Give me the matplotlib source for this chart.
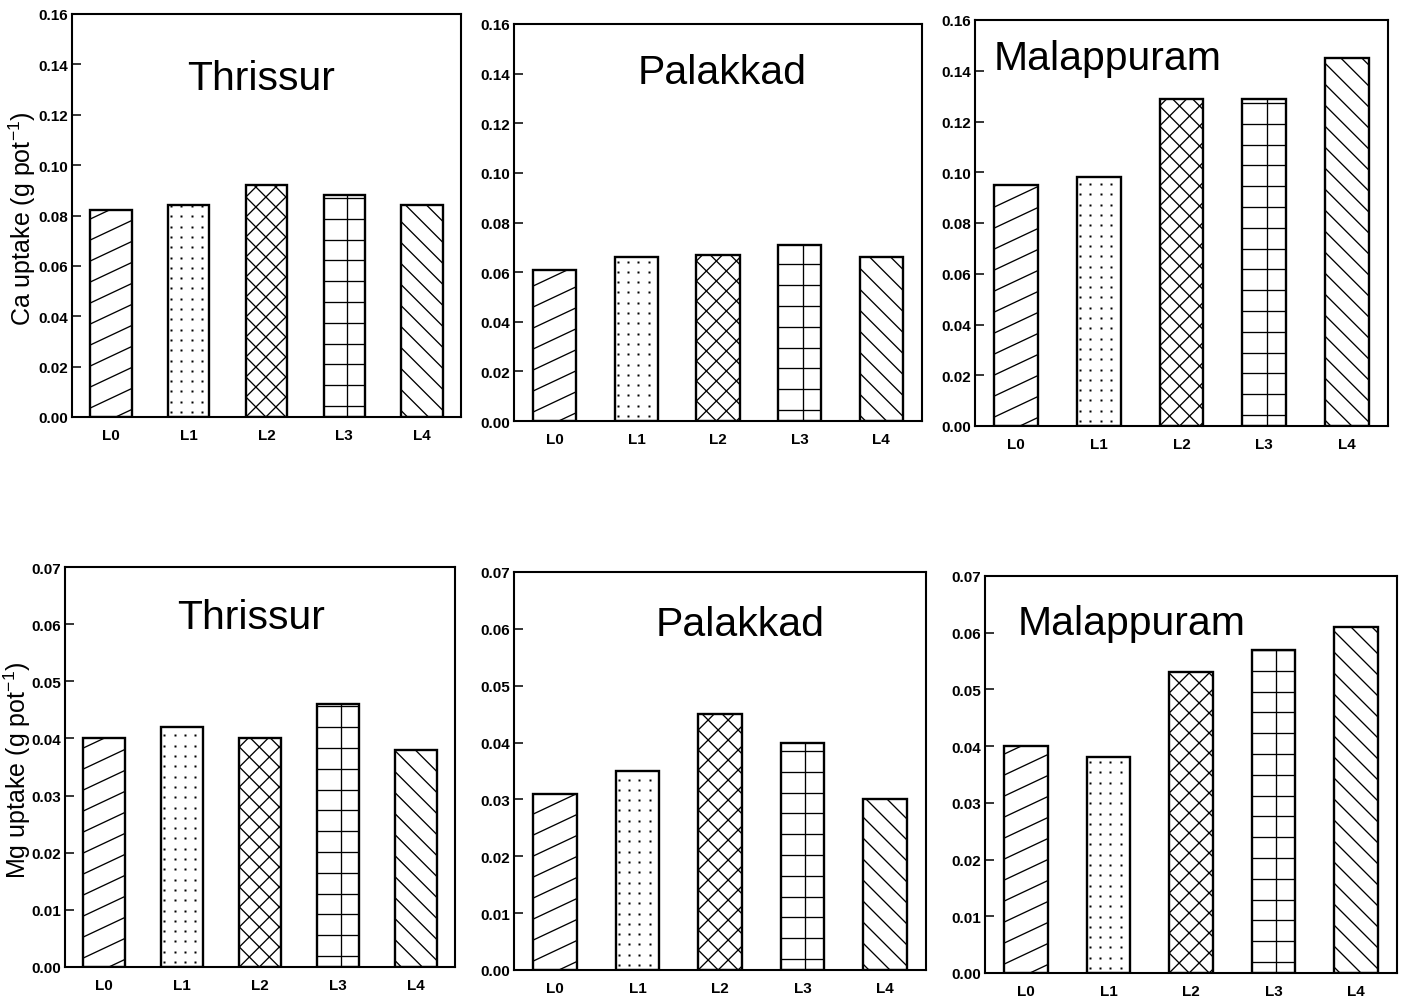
import matplotlib
matplotlib.use('Agg')
import matplotlib.pyplot as plt
import numpy as np
from matplotlib.collections import LineCollection
from matplotlib.lines import Line2D
from matplotlib.transforms import IdentityTransform

plt.rcParams['font.family'] = ['Liberation Sans', 'DejaVu Sans']
plt.rcParams['mathtext.fontset'] = 'custom'
plt.rcParams['mathtext.rm'] = 'Liberation Sans'
plt.rcParams['mathtext.it'] = 'Liberation Sans:italic'
plt.rcParams['mathtext.bf'] = 'Liberation Sans:bold'

# lime levels and districts
levels = ['L0', 'L1', 'L2', 'L3', 'L4']
districts = ['Thrissur', 'Palakkad', 'Malappuram']

# Ca uptake, g per pot
ca_thrissur = [0.082, 0.084, 0.092, 0.088, 0.084]
ca_palakkad = [0.061, 0.066, 0.067, 0.071, 0.066]
ca_malappuram = [0.095, 0.098, 0.129, 0.129, 0.145]

# Mg uptake, g per pot
mg_thrissur = [0.040, 0.042, 0.040, 0.046, 0.038]
mg_palakkad = [0.031, 0.035, 0.045, 0.040, 0.030]
mg_malappuram = [0.040, 0.038, 0.053, 0.057, 0.061]

ca_ticks = [0.00, 0.02, 0.04, 0.06, 0.08, 0.10, 0.12, 0.14, 0.16]
mg_ticks = [0.00, 0.01, 0.02, 0.03, 0.04, 0.05, 0.06, 0.07]

rows = [
    {'values': [ca_thrissur, ca_palakkad, ca_malappuram], 'ticks': ca_ticks,
     'ylabel': r'Ca uptake (g pot$^{-1}$)'},
    {'values': [mg_thrissur, mg_palakkad, mg_malappuram], 'ticks': mg_ticks,
     'ylabel': r'Mg uptake (g pot$^{-1}$)'},
]

W, H, DPI = 1402, 1003, 100
fig = plt.figure(figsize=(W / DPI, H / DPI), dpi=DPI)

# panel frames in pixels: left, right, top, bottom
boxes = [[(72, 461, 15, 418), (514, 922, 25, 422), (975, 1388, 21, 427)],
         [(65, 455, 568, 968), (514, 926, 573, 971), (985, 1397, 577, 974)]]
# title anchor (x centre, baseline) in axes fraction
title_pos = [[(0.485, 0.814), (0.511, 0.851), (0.321, 0.879)],
             [(0.477, 0.848), (0.549, 0.842), (0.356, 0.854)]]
ylabel_pos = [(-0.1285, 0.495), (-0.123, 0.495)]

patterns = ['fwd', 'dots', 'cross', 'grid', 'back']
HATCH_LW = 0.95


def family(bb, slope, step, offset):
    """Parallel lines y = slope*x + c (pixels) covering a bar box."""
    x0, y0, x1, y1 = bb.x0, bb.y0, bb.x1, bb.y1
    base = y0 - slope * x0 + offset
    lo = min(y0 - slope * x0, y0 - slope * x1)
    hi = max(y1 - slope * x0, y1 - slope * x1)
    k0 = int(np.floor((lo - base) / step)) - 1
    k1 = int(np.ceil((hi - base) / step)) + 1
    return [[(x0, slope * x0 + base + k * step), (x1, slope * x1 + base + k * step)]
            for k in range(k0, k1 + 1)]


def add_hatch(ax, bar, kind):
    bb = bar.get_window_extent()
    if kind == 'dots':
        xs = np.arange(bb.x0 + 3, bb.x1, 10.3)
        ys = np.arange(bb.y0 + 5, bb.y1, 10.3)
        gx, gy = np.meshgrid(xs, ys)
        art = Line2D(gx.ravel(), gy.ravel(), ls='none', marker='s', ms=2.0,
                     mfc='black', mec='none', transform=IdentityTransform(),
                     zorder=2.5)
    else:
        if kind == 'fwd':
            segs = family(bb, 0.47, 21, 9)
        elif kind == 'back':
            segs = family(bb, -1.0, 21, 6)
        elif kind == 'cross':
            segs = family(bb, 1.0, 20, 0) + family(bb, -1.0, 20, 0)
        else:
            ys = np.arange(bb.y0 + 11, bb.y1, 20.8)
            segs = [[(bb.x0, y), (bb.x1, y)] for y in ys]
            xv = bb.x0 + 0.57 * bb.width
            segs.append([(xv, bb.y0), (xv, bb.y1)])
        art = LineCollection(segs, colors='black', linewidths=HATCH_LW,
                             transform=IdentityTransform(), zorder=2.5)
    ax.add_artist(art)
    # clip to the bar itself (add_artist would otherwise clip to the axes)
    art.set_clip_path(bar)


x = np.arange(len(levels))
for r, row in enumerate(rows):
    for c, name in enumerate(districts):
        left, right, top, bottom = boxes[r][c]
        ax = fig.add_axes([left / W, 1 - bottom / H, (right - left) / W, (bottom - top) / H])
        ax.set_xlim(-0.5, 4.5)
        ax.set_ylim(0, row['ticks'][-1])

        bars = ax.bar(x, row['values'][c], width=0.53, color='white',
                      edgecolor='black', linewidth=1.7, zorder=2)
        for bar, kind in zip(bars, patterns):
            add_hatch(ax, bar, kind)

        ax.set_xticks(x, labels=levels, fontweight='bold', fontsize=11)
        ax.set_yticks(row['ticks'], labels=[f'{t:.2f}' for t in row['ticks']],
                      fontweight='bold', fontsize=11)
        ax.tick_params(axis='x', length=0, pad=8)
        ax.tick_params(axis='y', direction='in', length=6.5, width=1.1, pad=3)
        for sp in ax.spines.values():
            sp.set_linewidth(1.5)
            sp.set_zorder(4)

        tx, ty = title_pos[r][c]
        ax.text(tx, ty, name, transform=ax.transAxes, ha='center', va='baseline',
                fontsize=29.5)

        if c == 0:
            ax.set_ylabel(row['ylabel'], fontsize=18, va='center')
            ax.yaxis.set_label_coords(*ylabel_pos[r])

fig.savefig('out.png', dpi=DPI)
